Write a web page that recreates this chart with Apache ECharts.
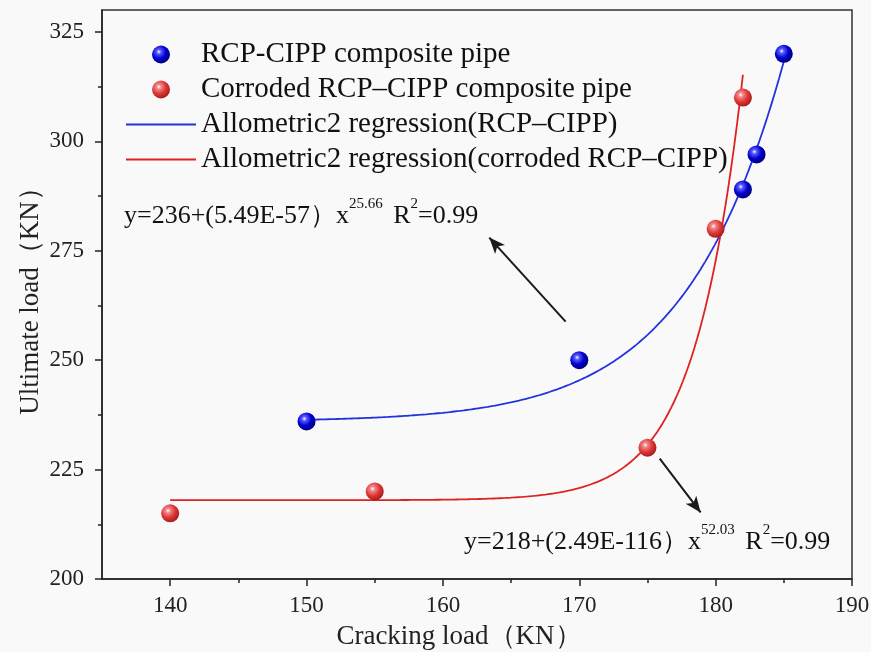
<!DOCTYPE html>
<html>
<head>
<meta charset="utf-8">
<script src="https://cdn.jsdelivr.net/npm/echarts@6/dist/echarts.min.js"></script>
<style>
  html, body { margin: 0; padding: 0; background: #f9f9f9; }
  #chart { width: 871px; height: 652px; }
</style>
</head>
<body>
<div id="chart"></div>
<script>
// Measured cracking / ultimate loads (KN)
const rcpX = [150, 170, 182, 183, 185];
const rcpY = [236, 250, 289, 297, 320];
const corrodedX = [140, 155, 175, 180, 182];
const corrodedY = [215, 220, 230, 280, 310];

// Allometric2 fits y = a + b * x^c : [a, b, c]
const rcpFit = [236, 5.49e-57, 25.66];
const corrodedFit = [218, 2.49e-116, 52.03];
// x range over which each fit is drawn
const rcpFitRange = [150, 185];
const corrodedFitRange = [140, 182];

// Axis ticks
const xMajorTicks = [140, 150, 160, 170, 180, 190];
const xMinorTicks = [145, 155, 165, 175, 185];
const yMajorTicks = [200, 225, 250, 275, 300, 325];
const yMinorTicks = [212.5, 237.5, 262.5, 287.5, 312.5];

const SERIF = '"Liberation Serif", "Times New Roman", serif';

function fitCurve(p, range) {
  const pts = [];
  const n = 200;
  for (let i = 0; i <= n; i++) {
    const x = range[0] + (range[1] - range[0]) * i / n;
    pts.push([x, p[0] + p[1] * Math.pow(x, p[2])]);
  }
  return pts;
}
function pairs(xs, ys) { return xs.map((x, i) => [x, ys[i]]); }

function sphere(light, mid, dark) {
  return {
    type: 'radial', x: 0.38, y: 0.35, r: 0.7,
    colorStops: [
      { offset: 0, color: '#ffffff' },
      { offset: 0.18, color: light },
      { offset: 0.55, color: mid },
      { offset: 1, color: dark }
    ]
  };
}

const chart = echarts.init(document.getElementById('chart'));

const axisLineStyle = { color: '#222', width: 1.5 };
const eqRich = {
  n: { fontFamily: SERIF, fontSize: 26, lineHeight: 32, verticalAlign: 'bottom', fill: '#111' },
  s: { fontFamily: SERIF, fontSize: 15, lineHeight: 26, verticalAlign: 'top', fill: '#111' },
  g: { fontFamily: SERIF, fontSize: 26, lineHeight: 32, verticalAlign: 'bottom', fill: '#111', padding: [0, 0, 0, 4] }
};

chart.setOption({
  backgroundColor: '#f9f9f9',
  animation: false,
  grid: {
    left: 102, right: 19, top: 10, bottom: 73,
    outerBoundsMode: 'none',
    show: true, borderColor: '#333', borderWidth: 1.5
  },
  legend: {
    orient: 'vertical', left: 120, top: 35,
    itemWidth: 70, itemHeight: 18, itemGap: 6,
    textStyle: { fontFamily: SERIF, fontSize: 29, color: '#111', lineHeight: 29 },
    data: [
      { name: 'RCP-CIPP composite pipe' },
      { name: 'Corroded RCP–CIPP composite pipe' },
      { name: 'Allometric2 regression(RCP–CIPP)', itemStyle: { opacity: 0 } },
      { name: 'Allometric2 regression(corroded RCP–CIPP)', itemStyle: { opacity: 0 } }
    ]
  },
  xAxis: [
    {
      type: 'value', min: 135, max: 190, interval: 5,
      name: 'Cracking load（KN）', nameLocation: 'middle', nameGap: 44, nameMoveOverlap: false,
      nameTextStyle: { fontFamily: SERIF, fontSize: 27, color: '#222', padding: [0, 36, 0, 0] },
      axisLine: { lineStyle: axisLineStyle },
      axisTick: { customValues: xMajorTicks, length: 7, lineStyle: axisLineStyle },
      axisLabel: { customValues: xMajorTicks, fontFamily: SERIF, fontSize: 23, color: '#222', margin: 15 },
      splitLine: { show: false }
    },
    {
      type: 'value', min: 135, max: 190, position: 'bottom', offset: 0,
      axisLine: { show: false },
      axisTick: { customValues: xMinorTicks, length: 4, lineStyle: axisLineStyle },
      axisLabel: { show: false },
      splitLine: { show: false }
    }
  ],
  yAxis: [
    {
      type: 'value', min: 200, max: 330, interval: 25,
      name: 'Ultimate load（KN）', nameLocation: 'middle', nameGap: 58, nameMoveOverlap: false,
      nameTextStyle: { fontFamily: SERIF, fontSize: 27, color: '#222' },
      axisLine: { show: true, lineStyle: axisLineStyle },
      axisTick: { show: true, customValues: yMajorTicks, length: 7, lineStyle: axisLineStyle },
      axisLabel: { customValues: yMajorTicks, fontFamily: SERIF, fontSize: 23, color: '#222', margin: 18 },
      splitLine: { show: false }
    },
    {
      type: 'value', min: 200, max: 330, position: 'left', offset: 0,
      axisLine: { show: false },
      axisTick: { show: true, customValues: yMinorTicks, length: 4, lineStyle: axisLineStyle },
      axisLabel: { show: false },
      splitLine: { show: false }
    }
  ],
  series: [
    {
      name: 'Allometric2 regression(RCP–CIPP)', type: 'line',
      data: fitCurve(rcpFit, rcpFitRange), showSymbol: false, symbol: 'none',
      lineStyle: { color: '#2233dd', width: 1.8 }, itemStyle: { color: '#2233dd' },
      z: 2,
      markLine: {
        silent: true, symbol: ['none', 'arrow'], symbolSize: [10, 16],
        lineStyle: { color: '#1a1a1a', width: 2, type: 'solid' },
        label: { show: false },
        data: [[{ coord: [169, 258.8] }, { coord: [163.4, 278] }]]
      }
    },
    {
      name: 'Allometric2 regression(corroded RCP–CIPP)', type: 'line',
      data: fitCurve(corrodedFit, corrodedFitRange), showSymbol: false, symbol: 'none',
      lineStyle: { color: '#dd2222', width: 1.8 }, itemStyle: { color: '#dd2222' },
      z: 2,
      markLine: {
        silent: true, symbol: ['none', 'arrow'], symbolSize: [10, 16],
        lineStyle: { color: '#1a1a1a', width: 2, type: 'solid' },
        label: { show: false },
        data: [[{ coord: [175.9, 227.5] }, { coord: [178.9, 215.2] }]]
      }
    },
    {
      name: 'RCP-CIPP composite pipe', type: 'scatter',
      data: pairs(rcpX, rcpY), symbol: 'circle', symbolSize: 18, z: 3,
      itemStyle: { color: sphere('#5a5aff', '#0000d0', '#000070'), opacity: 1 }
    },
    {
      name: 'Corroded RCP–CIPP composite pipe', type: 'scatter',
      data: pairs(corrodedX, corrodedY), symbol: 'circle', symbolSize: 18, z: 3,
      itemStyle: { color: sphere('#f08a8a', '#e03838', '#a01818'), opacity: 1 }
    }
  ],
  graphic: [
    {
      type: 'text', left: 124, top: 197,
      style: {
        text: '{n|y=236+(5.49E-57）x}{s|25.66}{g| R}{s|2}{n|=0.99}',
        fill: '#111', rich: eqRich
      }
    },
    {
      type: 'text', left: 464, top: 523,
      style: {
        text: '{n|y=218+(2.49E-116）x}{s|52.03}{g| R}{s|2}{n|=0.99}',
        fill: '#111', rich: eqRich
      }
    }
  ]
});
</script>
</body>
</html>
